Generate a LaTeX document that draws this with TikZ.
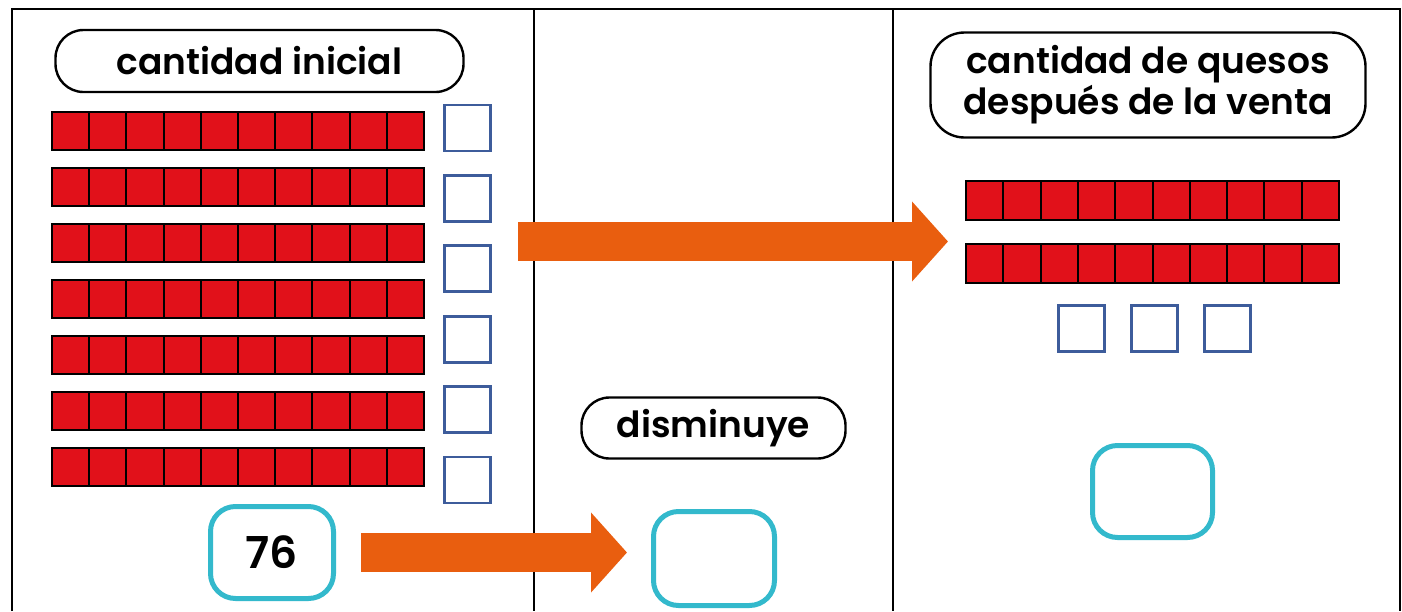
\documentclass[tikz,border=0pt]{standalone}
\usepackage{fontspec}
\setmainfont{Poppins SemiBold}
\usetikzlibrary{arrows.meta}
\definecolor{barred}{HTML}{E1111A}
\definecolor{sqblue}{HTML}{3D5C9B}
\definecolor{boxcyan}{HTML}{33B9CC}
\definecolor{arrorange}{HTML}{E95E0F}
\tikzset{
  frameline/.style={line width=1.25pt, black},
  pill/.style={draw, line width=1.2pt, rounded corners=14pt, inner sep=0pt, align=center, font=\fontsize{18}{19}\selectfont},
  numbox/.style={draw=boxcyan, line width=2.5pt, rounded corners=12.5pt, inner sep=0pt, font=\fontsize{22}{24}\selectfont},
  unitsq/.style={draw=sqblue, line width=1.4pt, minimum width=23pt, minimum height=23pt, inner sep=0pt},
  barfill/.style={fill=barred},
  barline/.style={line width=1pt, black},
  fatarrow/.style={draw=arrorange, line width=19.5pt, -{Triangle[length=18pt, width=39pt]}, arrorange}
}
\newcommand\tenbar[5]{%
  \fill[barfill] (#2,#3) rectangle ++(#4,#5);
  \foreach \k in {1,...,9} \draw[barline] ({#2+\k*#4/10},#3) -- ++(0,#5);
  \draw[barline] (#2,#3) rectangle ++(#4,#5);
  \coordinate (#1) at (#2,{#3+#5/2});
}
\begin{document}
\begin{tikzpicture}[x=0.5pt,y=-0.5pt]
\useasboundingbox (0,0) rectangle (1402,611);
% frame and dividers
\draw[frameline] (12,611) -- (12,9) -- (1400,9) -- (1400,611);
\draw[frameline] (534,9) -- (534,611);
\draw[frameline] (893,9) -- (893,611);
% left column
\node[pill, minimum width=204pt, minimum height=31pt] (ini) at (259.5,61) {cantidad inicial};
\foreach \r in {0,...,6} {\tenbar{lb\r}{52}{112+56*\r}{372}{38}}
\foreach \r in {0,...,5} {\node[unitsq] (ls\r) at (467.5,{128+70.4*\r}) {};}
\node[numbox, minimum width=61.5pt, minimum height=46pt] (n76) at (272,552.5) {76};
% middle column
\node[pill, minimum width=132pt, minimum height=30.5pt] (dis) at (713.5,428) {disminuye};
\node[numbox, minimum width=60.5pt, minimum height=47pt] (mid) at (714,558.5) {};
% right column
\node[pill, minimum width=217.5pt, minimum height=52.5pt, rounded corners=17pt] (fin) at (1148,85) {cantidad de quesos\\después de la venta};
\tenbar{rb0}{966}{181}{373}{39}
\tenbar{rb1}{966}{244}{373}{39}
\foreach \c in {0,1,2} {\node[unitsq] (rs\c) at ({1081.5+73*\c},328.5) {};}
\node[numbox, minimum width=60pt, minimum height=46pt] (res) at (1152.5,491.5) {};
% arrows
\coordinate (topstart) at (518,241.5);
\draw[fatarrow, shorten >=9pt] (topstart) -- (topstart -| rb0);
\draw[fatarrow, shorten <=12.5pt, shorten >=12pt] (n76.east) -- (mid.west |- n76.east);
\end{tikzpicture}
\end{document}
